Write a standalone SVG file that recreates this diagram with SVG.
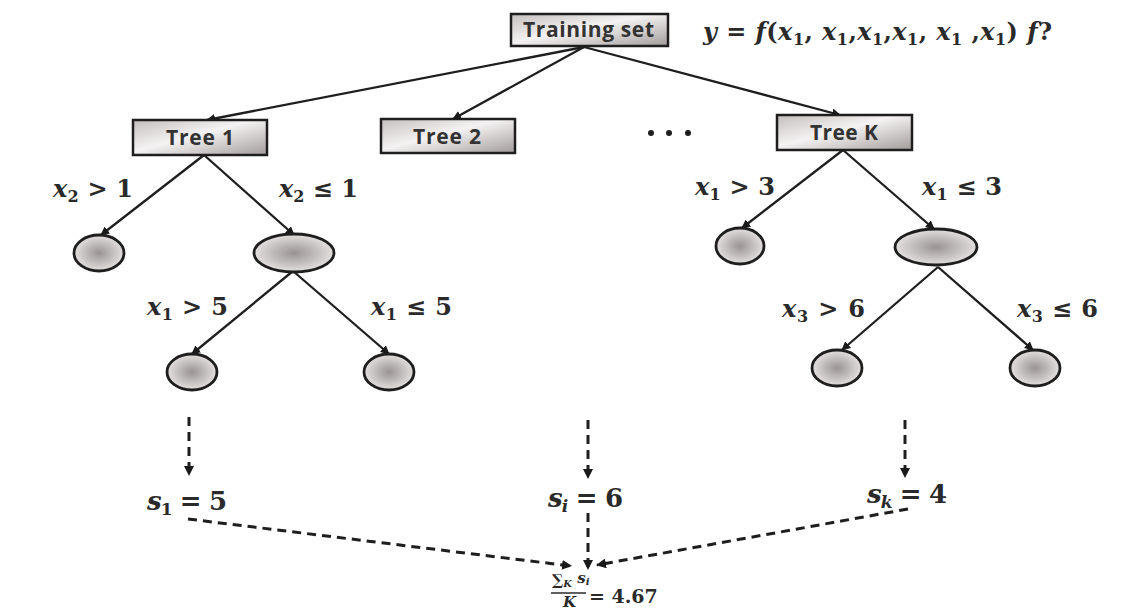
<svg xmlns="http://www.w3.org/2000/svg" width="1137" height="610" viewBox="0 0 1137 610">
<defs>
<linearGradient id="boxg" x1="0" y1="0" x2="1" y2="1">
<stop offset="0" stop-color="#c4bebe"/>
<stop offset="0.45" stop-color="#f4f2f2"/>
<stop offset="1" stop-color="#a29c9b"/>
</linearGradient>
<radialGradient id="leafg" cx="0.5" cy="0.5" r="0.55">
<stop offset="0" stop-color="#9a9393"/>
<stop offset="1" stop-color="#ebe8e8"/>
</radialGradient>
<marker id="ah" viewBox="0 0 10 10" refX="9" refY="5" markerWidth="9" markerHeight="9" markerUnits="userSpaceOnUse" orient="auto">
<path d="M0,0 L10,5 L0,10 z" fill="#1a1a1a"/>
</marker>
<marker id="dh" viewBox="0 0 10 10" refX="9" refY="5" markerWidth="10" markerHeight="10" markerUnits="userSpaceOnUse" orient="auto">
<path d="M0,0 L10,5 L0,10 z" fill="#1a1a1a"/>
</marker>
</defs>
<style>
.box{fill:url(#boxg);stroke:#1e1e1e;stroke-width:2.5}
.leaf{fill:url(#leafg);stroke:#1e1e1e;stroke-width:2.8}
.bt{font-family:"Open Sans","Liberation Sans",sans-serif;font-weight:bold;font-size:21px;fill:#333}
.edge{stroke:#1e1e1e;stroke-width:2.3;fill:none;marker-end:url(#ah)}
.dash{stroke:#1e1e1e;stroke-width:3;fill:none;stroke-dasharray:9 6;marker-end:url(#dh)}
.m{font-family:"DejaVu Serif","Liberation Serif",serif;font-weight:bold;font-size:24px;fill:#2a2a2a}
.s{font-size:26px}
.f{font-size:15px}
.fs{font-size:10px}
.eq{font-size:19px}
.v{font-style:italic}
.sub{font-size:16px}
.sub2{font-size:17px}
</style>
<rect width="1137" height="610" fill="#ffffff"/>

<g id="connectors">
<line class="edge" x1="584" y1="47" x2="207" y2="120"/>
<line class="edge" x1="584" y1="47" x2="453" y2="119"/>
<line class="edge" x1="584" y1="47" x2="840" y2="115"/>
<line class="edge" x1="204" y1="155" x2="101" y2="235"/>
<line class="edge" x1="204" y1="155" x2="294" y2="235"/>
<line class="edge" x1="293" y1="271" x2="192" y2="354"/>
<line class="edge" x1="293" y1="271" x2="389" y2="354"/>
<line class="edge" x1="843" y1="150" x2="742" y2="228"/>
<line class="edge" x1="843" y1="150" x2="934" y2="229"/>
<line class="edge" x1="938" y1="267" x2="842" y2="350"/>
<line class="edge" x1="938" y1="267" x2="1033" y2="350"/>
<line class="dash" x1="189" y1="417" x2="189" y2="475"/>
<line class="dash" x1="588" y1="420" x2="588" y2="478"/>
<line class="dash" x1="905" y1="420" x2="905" y2="477"/>
<line class="dash" x1="188" y1="519" x2="571" y2="566"/>
<line class="dash" x1="588" y1="513" x2="588" y2="569"/>
<line class="dash" x1="908" y1="509" x2="597" y2="565"/>
</g>

<g id="training-set">
<rect class="box" x="511" y="14" width="157" height="32"/>
<text class="bt" x="523" y="37" textLength="131">Training set</text>
</g>
<g id="tree1">
<rect class="box" x="133" y="120" width="134" height="35"/>
<text class="bt" x="166" y="145" textLength="68">Tree 1</text>
</g>
<g id="tree2">
<rect class="box" x="381" y="119" width="134" height="34"/>
<text class="bt" x="413" y="144" textLength="68">Tree 2</text>
</g>
<g id="treeK">
<rect class="box" x="777" y="115" width="135" height="35"/>
<text class="bt" x="810" y="140" textLength="68">Tree K</text>
</g>
<g id="dots">
<circle cx="651" cy="133" r="3" fill="#1e1e1e"/>
<circle cx="669" cy="133" r="3" fill="#1e1e1e"/>
<circle cx="688" cy="133" r="3" fill="#1e1e1e"/>
</g>

<g id="t1-leaf-left"><ellipse class="leaf" cx="99" cy="253" rx="25" ry="18"/></g>
<g id="t1-inner"><ellipse class="leaf" cx="294" cy="253" rx="40" ry="19"/></g>
<g id="t1-leaf-ll"><ellipse class="leaf" cx="192" cy="372" rx="25" ry="18"/></g>
<g id="t1-leaf-lr"><ellipse class="leaf" cx="389" cy="372" rx="25" ry="18"/></g>
<g id="tk-leaf-left"><ellipse class="leaf" cx="740" cy="246" rx="24" ry="18"/></g>
<g id="tk-inner"><ellipse class="leaf" cx="936" cy="247" rx="41" ry="18"/></g>
<g id="tk-leaf-ll"><ellipse class="leaf" cx="837" cy="368" rx="25" ry="18"/></g>
<g id="tk-leaf-lr"><ellipse class="leaf" cx="1035" cy="368" rx="25" ry="18"/></g>

<g id="labels">
<text class="m" x="703" y="40" textLength="349"><tspan class="v">y</tspan> = <tspan class="v">f</tspan>(<tspan class="v">x</tspan><tspan class="sub" dy="5">1</tspan><tspan dy="-5">, </tspan><tspan class="v">x</tspan><tspan class="sub" dy="5">1</tspan><tspan dy="-5">,</tspan><tspan class="v">x</tspan><tspan class="sub" dy="5">1</tspan><tspan dy="-5">,</tspan><tspan class="v">x</tspan><tspan class="sub" dy="5">1</tspan><tspan dy="-5">, </tspan><tspan class="v">x</tspan><tspan class="sub" dy="5">1</tspan><tspan dy="-5"> ,</tspan><tspan class="v">x</tspan><tspan class="sub" dy="5">1</tspan><tspan dy="-5">) </tspan><tspan class="v">f</tspan>?</text>

<text class="m" x="53" y="197" textLength="80"><tspan class="v">x</tspan><tspan class="sub" dy="5">2</tspan><tspan dy="-5"> &gt; 1</tspan></text>
<text class="m" x="279" y="197" textLength="79"><tspan class="v">x</tspan><tspan class="sub" dy="5">2</tspan><tspan dy="-5"> ≤ 1</tspan></text>
<text class="m" x="147" y="315" textLength="81"><tspan class="v">x</tspan><tspan class="sub" dy="5">1</tspan><tspan dy="-5"> &gt; 5</tspan></text>
<text class="m" x="371" y="315" textLength="81"><tspan class="v">x</tspan><tspan class="sub" dy="5">1</tspan><tspan dy="-5"> ≤ 5</tspan></text>
<text class="m" x="695" y="195" textLength="80"><tspan class="v">x</tspan><tspan class="sub" dy="5">1</tspan><tspan dy="-5"> &gt; 3</tspan></text>
<text class="m" x="922" y="195" textLength="80"><tspan class="v">x</tspan><tspan class="sub" dy="5">1</tspan><tspan dy="-5"> ≤ 3</tspan></text>
<text class="m" x="782" y="317" textLength="83"><tspan class="v">x</tspan><tspan class="sub" dy="5">3</tspan><tspan dy="-5"> &gt; 6</tspan></text>
<text class="m" x="1017" y="317" textLength="81"><tspan class="v">x</tspan><tspan class="sub" dy="5">3</tspan><tspan dy="-5"> ≤ 6</tspan></text>

<text class="m s" x="147" y="510" textLength="80"><tspan class="v">s</tspan><tspan class="sub2" dy="5">1</tspan><tspan dy="-5"> = 5</tspan></text>
<text class="m s" x="548" y="507" textLength="75"><tspan class="v">s</tspan><tspan class="sub2 v" dy="5">i</tspan><tspan dy="-5"> = 6</tspan></text>
<text class="m s" x="867" y="503" textLength="80"><tspan class="v">s</tspan><tspan class="sub2 v" dy="5">k</tspan><tspan dy="-5"> = 4</tspan></text>

<text class="m f" x="552" y="585">∑<tspan class="v fs" dy="2">K</tspan><tspan class="v" dy="-4"> s</tspan><tspan class="v fs" dy="2">i</tspan></text>
<line x1="551" y1="593" x2="586" y2="593" stroke="#2a2a2a" stroke-width="1.5"/>
<text class="m f v" x="563" y="607">K</text>
<text class="m eq" x="589" y="603">= 4.67</text>
</g>
</svg>
